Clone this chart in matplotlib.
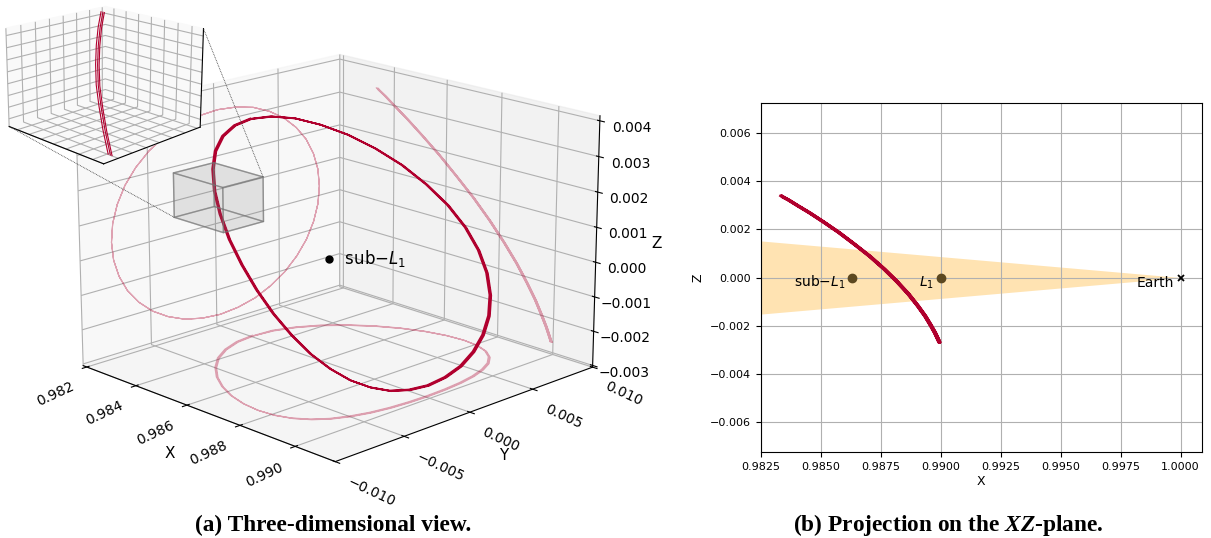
import numpy as np
import matplotlib
matplotlib.use("Agg")
import matplotlib.pyplot as plt
from matplotlib.lines import Line2D
from matplotlib.ticker import MaxNLocator
from mpl_toolkits.mplot3d import proj3d
from mpl_toolkits.mplot3d.art3d import Poly3DCollection

# halo orbit around L1, one revolution sampled every 10 deg
orbit_x = [0.98330, 0.98338, 0.98362, 0.98399, 0.98449, 0.98507, 0.98570, 0.98635, 0.98700,
           0.98760, 0.98814, 0.98861, 0.98900, 0.98931, 0.98954, 0.98971, 0.98982, 0.98988,
           0.98990, 0.98988, 0.98982, 0.98971, 0.98954, 0.98931, 0.98900, 0.98861, 0.98814,
           0.98760, 0.98700, 0.98635, 0.98570, 0.98507, 0.98449, 0.98399, 0.98362, 0.98338]
orbit_y = [0.0, -0.00139, -0.00274, -0.00400, -0.00514, -0.00613, -0.00693, -0.00752, -0.00788,
           -0.00800, -0.00788, -0.00752, -0.00693, -0.00613, -0.00514, -0.00400, -0.00274, -0.00139,
           0.0, 0.00139, 0.00274, 0.00400, 0.00514, 0.00613, 0.00693, 0.00752, 0.00788,
           0.00800, 0.00788, 0.00752, 0.00693, 0.00613, 0.00514, 0.00400, 0.00274, 0.00139]
orbit_z = [0.00340, 0.00335, 0.00322, 0.00299, 0.00269, 0.00231, 0.00188, 0.00139, 0.00088,
           0.00035, -0.00018, -0.00069, -0.00118, -0.00161, -0.00199, -0.00229, -0.00252, -0.00265,
           -0.00270, -0.00265, -0.00252, -0.00229, -0.00199, -0.00161, -0.00118, -0.00069, -0.00018,
           0.00035, 0.00088, 0.00139, 0.00188, 0.00231, 0.00269, 0.00299, 0.00322, 0.00335]
# slow drift of the trajectory from one revolution to the next
rev_dx = [0.0, 0.00004, 0.00007]

# piece of the orbit crossing the zoom box
arc_x = [0.98438, 0.98460, 0.98483, 0.98507, 0.98531, 0.98557, 0.98583, 0.98609]
arc_y = [-0.00493, -0.00535, -0.00575, -0.00613, -0.00647, -0.00678, -0.00706, -0.00731]
arc_z = [0.00275, 0.00262, 0.00247, 0.00231, 0.00214, 0.00197, 0.00178, 0.00159]

box_x = [0.98432, 0.98620]
box_y = [-0.00760, -0.00470]
box_z = [0.00155, 0.00279]

sub_l1_x = 0.98630
l1_x = 0.99000
earth_x = 1.0

# exclusion cone seen from Earth
cone_x = [0.980, 1.000]
cone_half = [0.00174, 0.0]

wall_x = 0.982
wall_y = 0.010
floor_z = -0.003

xticks3d = [0.982, 0.984, 0.986, 0.988, 0.990]
yticks3d = [-0.010, -0.005, 0.0, 0.005, 0.010]
zticks3d = [-0.003, -0.002, -0.001, 0.0, 0.001, 0.002, 0.003, 0.004]
xticks2d = [0.9825, 0.9850, 0.9875, 0.9900, 0.9925, 0.9950, 0.9975, 1.0000]
zticks2d = [-0.006, -0.004, -0.002, 0.0, 0.002, 0.004, 0.006]

RED = "#b0002e"
ELEV, AZIM = 17.3, -44.5

plt.rcParams["mathtext.it"] = "Liberation Serif:italic:bold"
plt.rcParams["mathtext.rm"] = "Liberation Serif:bold"


def trajectory(xs, ys, zs, close=True):
    tx, ty, tz = [], [], []
    for d in rev_dx:
        tx += [v + d for v in xs]
        ty += list(ys)
        tz += list(zs)
    if close:
        tx.append(xs[0] + rev_dx[-1])
        ty.append(ys[0])
        tz.append(zs[0])
    return np.array(tx), np.array(ty), np.array(tz)


tx, ty, tz = trajectory(orbit_x, orbit_y, orbit_z)

fig = plt.figure(figsize=(12.11, 5.38), dpi=100)

# ---- (a) 3D view
ax = fig.add_axes([-0.0068, 0.0664, 0.56, 0.94], projection="3d")
ax.view_init(elev=ELEV, azim=AZIM)
ax.set_box_aspect((4, 4, 2.88), zoom=1.113)
ax.plot(tx, ty, tz, color=RED, lw=1.2)
ax.plot(np.full_like(tx, wall_x), ty, tz, color=RED, lw=0.8, alpha=0.35)
ax.plot(tx, np.full_like(ty, wall_y), tz, color=RED, lw=0.8, alpha=0.35)
ax.plot(tx, ty, np.full_like(tz, floor_z), color=RED, lw=0.8, alpha=0.35)
ax.plot([sub_l1_x], [0.0], [0.0], "o", color="k", ms=5)
ax.text(sub_l1_x, 0.0, 0.0, "   sub$-L_1$", ha="left", va="center", fontsize=12,
        math_fontfamily="dejavusans")

# the zoom box
bx0, bx1 = box_x
by0, by1 = box_y
bz0, bz1 = box_z
faces = [
    [(bx0, by0, bz0), (bx1, by0, bz0), (bx1, by1, bz0), (bx0, by1, bz0)],
    [(bx0, by0, bz1), (bx1, by0, bz1), (bx1, by1, bz1), (bx0, by1, bz1)],
    [(bx0, by0, bz0), (bx1, by0, bz0), (bx1, by0, bz1), (bx0, by0, bz1)],
    [(bx0, by1, bz0), (bx1, by1, bz0), (bx1, by1, bz1), (bx0, by1, bz1)],
    [(bx0, by0, bz0), (bx0, by1, bz0), (bx0, by1, bz1), (bx0, by0, bz1)],
    [(bx1, by0, bz0), (bx1, by1, bz0), (bx1, by1, bz1), (bx1, by0, bz1)],
]
ax.add_collection3d(Poly3DCollection(faces, facecolor=(0.5, 0.5, 0.5, 0.10),
                                     edgecolor=(0.45, 0.45, 0.45, 0.5), linewidth=1.0))

ax.set_xlim(0.98185, 0.9914)
ax.set_ylim(-0.010, 0.010)
ax.set_zlim(-0.00305, 0.00414)
ax.set_xticks(xticks3d)
ax.set_yticks(yticks3d)
ax.set_zticks(zticks3d)
ax.tick_params(labelsize=10)
ax.tick_params(axis="x", labelrotation=25, pad=-1)
ax.tick_params(axis="y", labelrotation=-25, pad=-1)
for lab in ax.get_xticklabels():
    lab.set_ha("right")
for lab in ax.get_yticklabels():
    lab.set_ha("left")
ax.set_xlabel("X", fontsize=11, labelpad=2)
ax.set_ylabel("Y", fontsize=11, labelpad=2)
ax.set_zlabel("Z", fontsize=11, labelpad=1)

# inset with the zoomed box, opaque panes over a see-through background
axi = fig.add_axes([-0.003, 0.695, 0.175, 0.31], projection="3d")
axi.patch.set_alpha(0.0)
axi.view_init(elev=ELEV, azim=AZIM)
axi.set_box_aspect(None, zoom=1.28)
ax_arc = trajectory(arc_x, arc_y, arc_z, close=False)
n = len(arc_x)
for k in range(len(rev_dx)):
    sl = slice(k * n, (k + 1) * n)
    axi.plot(ax_arc[0][sl], ax_arc[1][sl], ax_arc[2][sl], color=RED, lw=0.8)
axi.set_xlim(*box_x)
axi.set_ylim(*box_y)
axi.set_zlim(*box_z)
for a in (axi.xaxis, axi.yaxis, axi.zaxis):
    a.set_major_locator(MaxNLocator(9))
    a.set_ticklabels([])
    a.set_pane_color((0.975, 0.975, 0.975, 1.0))
    a._axinfo["tick"]["inward_factor"] = 0.0
    a._axinfo["tick"]["outward_factor"] = 0.0

# ---- (b) XZ projection
ax2 = fig.add_axes([0.6282, 0.1593, 0.3641, 0.6498])
ax2.fill_between(cone_x, [-h for h in cone_half], cone_half, color="orange", alpha=0.3, lw=0)
ax2.plot(tx, tz, color=RED, lw=1.8)
ax2.plot([sub_l1_x, l1_x], [0.0, 0.0], "o", color="#5c4820", ms=6)
ax2.plot([earth_x], [0.0], "x", color="k", ms=5, mew=1.3)
for xv, lab in [(sub_l1_x, "sub$-L_1$"), (l1_x, "$L_1$"), (earth_x, "Earth")]:
    ax2.annotate(lab, (xv, 0.0), xytext=(-5, -6.5), textcoords="offset points",
                 ha="right", va="baseline", fontsize=10, math_fontfamily="dejavusans")
ax2.set_xlim(0.98248, 1.00088)
ax2.set_ylim(-0.00728, 0.00728)
ax2.set_xticks(xticks2d)
ax2.set_yticks(zticks2d)
ax2.tick_params(labelsize=8)
ax2.grid(True)
ax2.set_xlabel("X", fontsize=9, labelpad=2)
ax2.set_ylabel("Z", fontsize=9)

fig.text(0.275, 0.013, "(a) Three-dimensional view.", ha="center", va="baseline",
         family="Liberation Serif", weight="bold", fontsize=16.8, math_fontfamily="custom")
fig.text(0.783, 0.013, "(b) Projection on the $XZ$-plane.", ha="center", va="baseline",
         family="Liberation Serif", weight="bold", fontsize=16.8, math_fontfamily="custom")

# dotted leader lines from the box to the inset
fig.canvas.draw()


def to_fig(a, x, y, z):
    xs, ys, _ = proj3d.proj_transform(x, y, z, a.get_proj())
    disp = a.transData.transform((xs, ys))
    return fig.transFigure.inverted().transform(disp)


for cx, cy, cz in [(bx0, by0, bz0), (bx1, by1, bz1)]:
    p0 = to_fig(ax, cx, cy, cz)
    p1 = to_fig(axi, cx, cy, cz)
    fig.add_artist(Line2D([p0[0], p1[0]], [p0[1], p1[1]], transform=fig.transFigure,
                          color="0.25", lw=0.6, ls=(0, (1, 1))))

fig.savefig("out.png", dpi=100)
